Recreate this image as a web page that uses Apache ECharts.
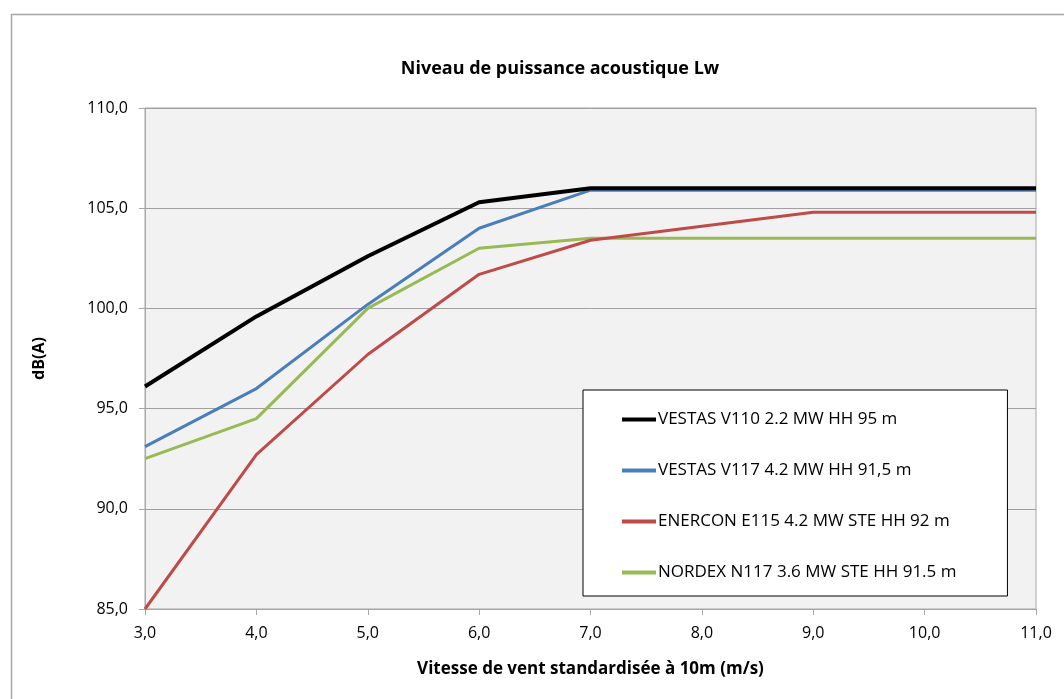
<!DOCTYPE html>
<html><head><meta charset="utf-8">
<script src="https://cdn.jsdelivr.net/npm/echarts@6/dist/echarts.min.js"></script>
<style>html,body{margin:0;padding:0;background:#fff}#c{width:1064px;height:699px}</style>
</head><body><div id="c"></div>
<script>
const windSpeeds = [3, 4, 5, 6, 7, 8, 9, 10, 11];
const seriesNames = [
  'VESTAS V110 2.2 MW HH 95 m',
  'VESTAS V117 4.2 MW HH 91,5 m',
  'ENERCON E115 4.2 MW STE HH 92 m',
  'NORDEX N117 3.6 MW STE HH 91.5 m'
];
const vestasV110 = [96.1, 99.6, 102.6, 105.3, 106.0, 106.0, 106.0, 106.0, 106.0];
const vestasV117 = [93.1, 96.0, 100.2, 104.0, 105.9, 105.9, 105.9, 105.9, 105.9];
const enerconE115 = [85.0, 92.7, 97.7, 101.7, 103.4, 104.1, 104.8, 104.8, 104.8];
const nordexN117 = [92.5, 94.5, 100.0, 103.0, 103.5, 103.5, 103.5, 103.5, 103.5];
const allValues = [vestasV110, vestasV117, enerconE115, nordexN117];
const colors = ['#000000', '#4a7ebb', '#be4b48', '#98b954'];
const widths = [4, 3, 3, 3];

const font = "'Open Sans', 'Noto Sans', sans-serif";
const fmt = v => v.toFixed(1).replace('.', ',');

const chart = echarts.init(document.getElementById('c'));
chart.setOption({
  animation: false,
  textStyle: { fontFamily: font },
  title: {
    text: 'Niveau de puissance acoustique Lw',
    left: 555, top: 55, textAlign: 'center',
    textStyle: { fontSize: 18, fontWeight: 'bold', color: '#000', fontFamily: font }
  },
  graphic: [{
    type: 'rect', left: 9, top: 12, z: -10,
    shape: { width: 1070, height: 700 },
    style: { fill: 'none', stroke: '#a6a6a6', lineWidth: 1.5 }
  }],
  grid: { left: 145, top: 108, right: 28, bottom: 90, show: true, backgroundColor: '#f2f2f2', borderColor: '#a6a6a6', borderWidth: 1 },
  legend: {
    orient: 'vertical', left: 583, top: 390,
    data: seriesNames.map((n, i) => ({ name: n, itemStyle: { color: colors[i] } })),
    itemWidth: 34, itemHeight: 4, itemGap: 34,
    icon: 'rect',
    backgroundColor: '#fff', borderColor: '#000', borderWidth: 1,
    padding: [21, 51, 15, 39],
    textStyle: { fontSize: 17, color: '#000', fontFamily: font, padding: [0, 0, 0, -3] }
  },
  xAxis: {
    type: 'value', min: 3, max: 11, interval: 1,
    name: 'Vitesse de vent standardisée à 10m (m/s)',
    nameLocation: 'middle', nameGap: 52,
    nameTextStyle: { fontSize: 17, fontWeight: 'bold', color: '#000', fontFamily: font },
    axisLine: { show: true, lineStyle: { color: '#a6a6a6' } },
    axisTick: { show: true, length: 6, lineStyle: { color: '#a6a6a6' } },
    axisLabel: { fontSize: 16, color: '#000', margin: 16, formatter: fmt },
    splitLine: { show: false }
  },
  yAxis: {
    type: 'value', min: 85, max: 110, interval: 5,
    name: 'dB(A)', nameLocation: 'middle', nameGap: 98, nameRotate: 90,
    nameTextStyle: { fontSize: 16, fontWeight: 'bold', color: '#000', fontFamily: font },
    axisLine: { show: true, lineStyle: { color: '#a6a6a6' } },
    axisTick: { show: true, length: 6, lineStyle: { color: '#a6a6a6' } },
    axisLabel: { fontSize: 16, color: '#000', margin: 17, formatter: fmt },
    splitLine: { show: true, lineStyle: { color: '#a0a0a0', width: 1 } }
  },
  series: seriesNames.map((n, i) => ({
    name: n, type: 'line', showSymbol: false, symbol: 'none',
    data: windSpeeds.map((x, j) => [x, allValues[i][j]]),
    lineStyle: { color: colors[i], width: widths[i] },
    itemStyle: { color: colors[i] },
    z: 10 - i
  }))
});
</script></body></html>
